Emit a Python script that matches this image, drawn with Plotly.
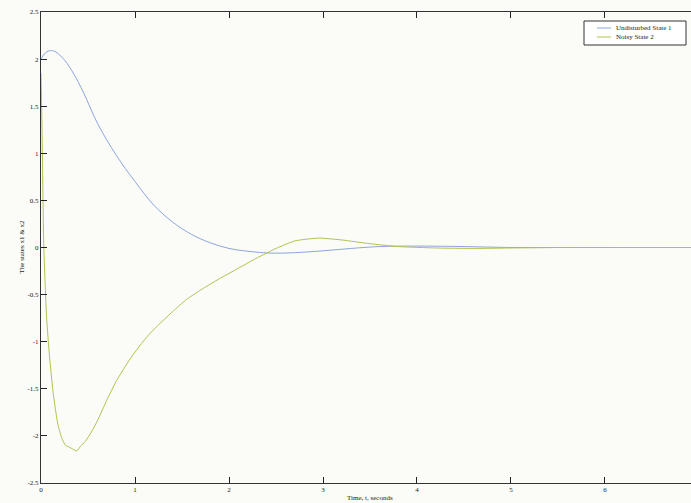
import plotly.graph_objects as go

# Undisturbed state 1
t1 = [0, 0.05, 0.1, 0.15, 0.25, 0.35, 0.45, 0.6, 0.8, 1.0, 1.2, 1.4, 1.6, 1.8, 2.0,
      2.2, 2.45, 2.7, 3.0, 3.3, 3.6, 4.0, 4.5, 5.0, 5.5, 6.0, 6.5, 7.0]
x1 = [2.0, 2.07, 2.09, 2.08, 1.99, 1.84, 1.65, 1.32, 0.98, 0.70, 0.45, 0.27, 0.14, 0.05, -0.01,
      -0.04, -0.06, -0.055, -0.035, -0.01, 0.01, 0.015, 0.01, 0.0, 0.0, 0.0, 0.0, 0.0]

# Noisy state 2
t2 = [0, 0.01, 0.03, 0.06, 0.09, 0.13, 0.18, 0.22, 0.26, 0.3, 0.34, 0.38, 0.42, 0.47, 0.53,
      0.6, 0.7, 0.8, 0.95, 1.1, 1.2, 1.4, 1.55, 1.7, 1.9, 2.1, 2.3, 2.5, 2.7, 2.95,
      3.2, 3.5, 3.8, 4.2, 4.6, 5.0, 5.5, 6.0, 6.5, 7.0]
x2 = [1.85, 1.3, 0.0, -0.75, -1.15, -1.55, -1.88, -2.02, -2.1, -2.12, -2.14, -2.16, -2.11, -2.06, -1.97,
      -1.84, -1.62, -1.42, -1.18, -0.98, -0.87, -0.68, -0.55, -0.45, -0.33, -0.22, -0.11, -0.01, 0.07, 0.1,
      0.08, 0.04, 0.01, -0.005, -0.01, -0.005, 0.0, 0.0, 0.0, 0.0]

names = ["Undisturbed State 1", "Noisy State 2"]
colors = ["#8ea6df", "#b3c24c"]

xticks = [0, 1, 2, 3, 4, 5, 6, 7]
yticks = [-2.5, -2, -1.5, -1, -0.5, 0, 0.5, 1, 1.5, 2, 2.5]
ytick_text = ["-2.5", "-2", "-1.5", "-1", "-0.5", "0", "0.5", "1", "1.5", "2", "2.5"]

bg = "#fbfbf7"
font = "Liberation Serif"
W, H = 691, 503
ml, mr, mt, mb = 41, 0, 12, 20
pw, ph = W - ml - mr, H - mt - mb

def px(x):  # pixel -> paper x
    return (x - ml) / pw

def py(y):  # pixel -> paper y
    return 1 - (y - mt) / ph

fig = go.Figure()
fig.add_trace(go.Scatter(x=t1, y=x1, mode="lines", name=names[0], showlegend=False,
                         line=dict(color=colors[0], width=1, shape="spline")))
fig.add_trace(go.Scatter(x=t2, y=x2, mode="lines", name=names[1], showlegend=False,
                         line=dict(color=colors[1], width=1, shape="spline", smoothing=0.5)))

# manual compact legend (box, sample lines, labels)
shapes = [dict(type="rect", xref="paper", yref="paper", x0=px(584), x1=px(686),
               y0=py(45), y1=py(21), fillcolor="#ffffff", line=dict(color="#333333", width=1))]
annotations = []
for i, (nm, c) in enumerate(zip(names, colors)):
    yy = 28 + i * 9
    shapes.append(dict(type="line", xref="paper", yref="paper", x0=px(597), x1=px(611),
                       y0=py(yy), y1=py(yy), line=dict(color=c, width=1)))
    annotations.append(dict(text=nm, xref="paper", yref="paper", x=px(614), y=py(yy),
                            xanchor="left", yanchor="middle", showarrow=False,
                            font=dict(family=font, size=7, color="#222222")))

annotations.append(dict(text="Time, t, seconds", x=3.5, xref="x", y=0, yref="paper", yshift=-9,
                        showarrow=False, font=dict(family=font, size=7, color="#222222"),
                        yanchor="top"))
annotations.append(dict(text="The states x1 & x2", x=0, xref="paper", xshift=-26, y=0.5,
                        yref="paper", showarrow=False, textangle=-90,
                        font=dict(family=font, size=7, color="#222222")))

fig.update_layout(
    width=W, height=H,
    margin=dict(l=ml, r=mr, t=mt, b=mb),
    paper_bgcolor=bg, plot_bgcolor=bg,
    font=dict(family=font, size=7, color="#222222"),
    showlegend=False,
    xaxis=dict(range=[0, 6.915], tickvals=xticks, ticktext=[str(v) for v in xticks],
               showgrid=False, zeroline=False, showline=True, linecolor="#333333", linewidth=1,
               mirror="ticks", ticks="inside", ticklen=6, tickwidth=1, tickcolor="#222222",
               tickfont=dict(family=font, size=7)),
    yaxis=dict(range=[-2.5, 2.5], tickvals=yticks, ticktext=ytick_text,
               showgrid=False, zeroline=False, showline=True, linecolor="#333333", linewidth=1,
               ticks="inside", ticklen=6, tickwidth=1, tickcolor="#222222",
               tickfont=dict(family=font, size=7)),
    shapes=shapes,
    annotations=annotations,
)

fig.write_html("out.html")
